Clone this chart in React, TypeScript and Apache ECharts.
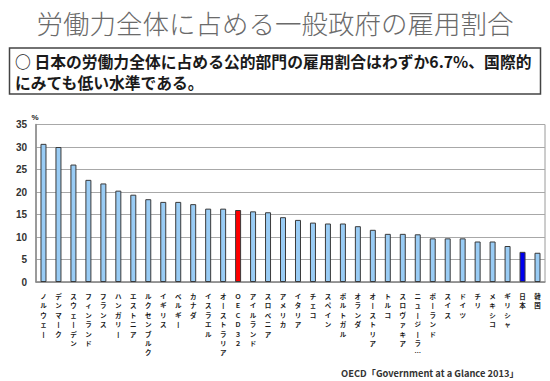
import React, { useEffect, useRef } from "react";
import * as echarts from "echarts";

const categories = [
  "ノルウェー", "デンマーク", "スウェーデン", "フィンランド", "フランス", "ハンガリー",
  "エストニア", "ルクセンブルク", "イギリス", "ベルギー", "カナダ", "イスラエル",
  "オーストラリア", "ＯＥＣＤ３２", "アイルランド", "スロベニア", "アメリカ", "イタリア",
  "チェコ", "スペイン", "ポルトガル", "オランダ", "オーストリア", "トルコ",
  "スロヴァキア", "ニュージーラ…", "ポーランド", "スイス", "ドイツ", "チリ",
  "メキシコ", "ギリシャ", "日本", "韓国",
];
const values = [
  30.7, 30.0, 26.1, 22.7, 21.9, 20.3, 19.4, 18.4, 17.8, 17.8, 17.3, 16.3,
  16.3, 16.0, 15.7, 15.5, 14.4, 13.8, 13.2, 13.0, 13.0, 12.4, 11.6, 10.7,
  10.7, 10.6, 9.7, 9.7, 9.7, 9.0, 9.0, 8.0, 6.7, 6.5,
];
const highlightRed = ["ＯＥＣＤ３２"];
const highlightBlue = ["日本"];
const yTicks = [0, 5, 10, 15, 20, 25, 30, 35];

const title = "労働力全体に占める一般政府の雇用割合";
const noteLine1 = "○ 日本の労働力全体に占める公的部門の雇用割合はわずか6.7%、国際的";
const noteLine2 = "にみても低い水準である。";
const source = "OECD「Government at a Glance 2013」";

const verticalize = (s: string) =>
  s.replace(/ー/g, "丨").split("").join("\n");

export default function App() {
  const ref = useRef<HTMLDivElement>(null);
  useEffect(() => {
    if (!ref.current) return;
    const chart = echarts.init(ref.current, null, { renderer: "svg" });
    const jp = "'Noto Sans CJK JP', 'Noto Sans', sans-serif";
    chart.setOption({
      animation: false,
      backgroundColor: "#ffffff",
      grid: {
        left: 36,
        right: 5,
        top: 124.5,
        bottom: 99,
        show: true,
        borderColor: "#9a9a9a",
        borderWidth: 1,
      },
      xAxis: {
        type: "category",
        data: categories,
        axisTick: { show: false },
        axisLine: { show: true, lineStyle: { color: "#8a8a8a", width: 1.5 } },
        axisLabel: {
          interval: 0,
          margin: 9,
          fontSize: 6.5,
          lineHeight: 9.45,
          fontWeight: "bold",
          color: "#1a1a1a",
          fontFamily: jp,
          verticalAlign: "top",
          formatter: (v: string) => verticalize(v),
        },
      },
      yAxis: {
        type: "value",
        min: yTicks[0],
        max: yTicks[yTicks.length - 1],
        interval: 5,
        axisLine: { show: true, lineStyle: { color: "#8a8a8a", width: 1.5 } },
        axisTick: { show: false },
        splitLine: { lineStyle: { color: "#a8a8a8", width: 1.2 } },
        axisLabel: {
          fontSize: 10,
          fontWeight: "bold",
          color: "#333",
          margin: 9,
          fontFamily: "'Liberation Sans', Arial, sans-serif",
        },
      },
      series: [
        {
          type: "bar",
          barWidth: 6,
          data: values.map((v, i) => {
            const c = categories[i];
            let color = "#99ccf5";
            if (highlightRed.includes(c)) color = "#ff0000";
            if (highlightBlue.includes(c)) color = "#0000ee";
            return {
              value: v,
              itemStyle: { color, borderColor: "#3a3a3a", borderWidth: 1 },
            };
          }),
        },
      ],
      graphic: [
        {
          type: "text",
          x: 275,
          y: 22,
          style: {
            text: title,
            fontSize: 26.5,
            fontFamily: jp,
            fontWeight: 300,
            fill: "#6a6a6a",
            textAlign: "center",
            textVerticalAlign: "middle",
          },
        },
        {
          type: "rect",
          shape: { x: 9.5, y: 48, width: 531, height: 46 },
          style: { fill: "#fff", stroke: "#444", lineWidth: 1.5 },
        },
        {
          type: "text",
          x: 15,
          y: 61,
          style: {
            text: noteLine1,
            fontSize: 15.8,
            fontWeight: "bold",
            fontFamily: jp,
            fill: "#1a1a1a",
            textVerticalAlign: "middle",
          },
        },
        {
          type: "text",
          x: 15,
          y: 82,
          style: {
            text: noteLine2,
            fontSize: 15.8,
            fontWeight: "bold",
            fontFamily: jp,
            fill: "#1a1a1a",
            textVerticalAlign: "middle",
          },
        },
        {
          type: "text",
          x: 35,
          y: 117,
          style: {
            text: "%",
            fontSize: 8,
            fontWeight: "bold",
            fontFamily: "'Liberation Sans', Arial, sans-serif",
            fill: "#222",
            textAlign: "center",
            textVerticalAlign: "middle",
          },
        },
        {
          type: "text",
          x: 341,
          y: 373,
          style: {
            text: source,
            fontSize: 9.3,
            fontWeight: "bold",
            fontFamily: jp,
            fill: "#333",
            textVerticalAlign: "middle",
          },
        },
      ],
    });
    return () => chart.dispose();
  }, []);
  return (
    <div
      ref={ref}
      style={{ position: "fixed", left: 0, top: 0, width: 550, height: 381 }}
    />
  );
}
